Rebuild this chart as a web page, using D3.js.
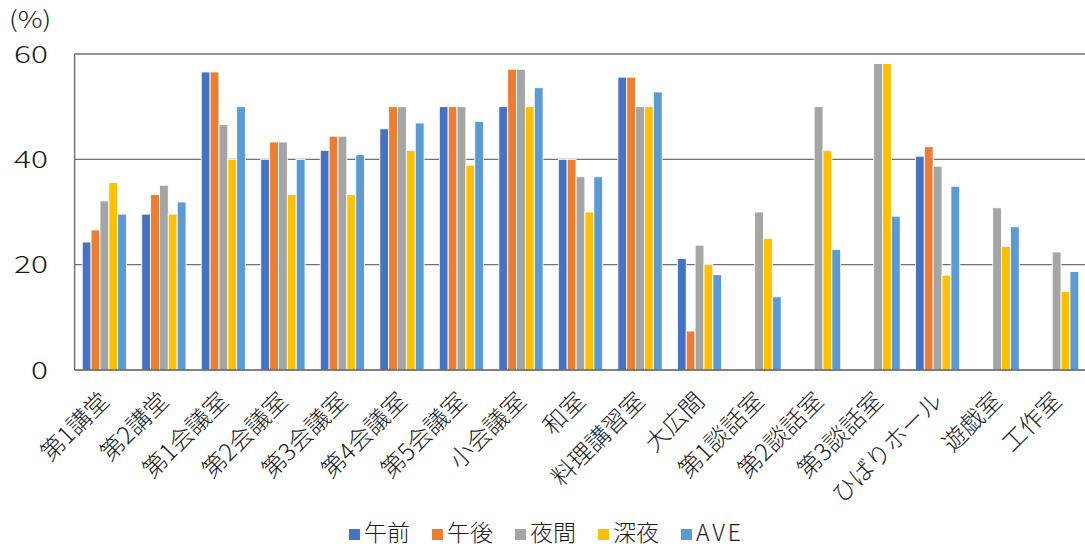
<!DOCTYPE html>
<html>
<head>
<meta charset="utf-8">
<script src="https://cdn.jsdelivr.net/npm/d3@7"></script>
<style>
  html, body { margin: 0; padding: 0; background: #fff; }
  svg { display: block; }
  text { font-family: "Noto Sans CJK JP", "Noto Sans", sans-serif; font-weight: 300; fill: #1a1a1a; }
</style>
</head>
<body>
<svg id="chart" width="1085" height="548"></svg>
<script>
// Room usage rate (%) by time slot
const categories = ["第1講堂","第2講堂","第1会議室","第2会議室","第3会議室","第4会議室","第5会議室","小会議室","和室","料理講習室","大広間","第1談話室","第2談話室","第3談話室","ひばりホール","遊戯室","工作室"];
const seriesNames = ["午前","午後","夜間","深夜","AVE"];
const morning   = [24.3, 29.6, 56.6, 40.0, 41.7, 45.8, 50.0, 50.0, 40.0, 55.6, 21.2, null, null, null, 40.6, null, null];
const afternoon = [26.6, 33.3, 56.6, 43.3, 44.4, 50.0, 50.0, 57.1, 40.0, 55.6,  7.4, null, null, null, 42.4, null, null];
const evening   = [32.1, 35.1, 46.6, 43.3, 44.4, 50.0, 50.0, 57.1, 36.7, 50.0, 23.7, 30.0, 50.0, 58.2, 38.7, 30.8, 22.4];
const lateNight = [35.6, 29.6, 40.0, 33.3, 33.3, 41.7, 38.9, 50.0, 30.0, 50.0, 20.0, 25.0, 41.7, 58.2, 18.0, 23.5, 14.9];
const average   = [29.6, 31.9, 50.0, 40.0, 40.9, 46.9, 47.2, 53.6, 36.7, 52.8, 18.1, 13.9, 22.9, 29.2, 34.9, 27.2, 18.7];
const yTicks = [0, 20, 40, 60];
const colors = ["#4472C4", "#ED7D31", "#A5A5A5", "#FFC000", "#5B9BD5"];

const seriesValues = [morning, afternoon, evening, lateNight, average];

const svg = d3.select("#chart");
const plot = { left: 74.6, right: 1086.4, top: 54, bottom: 370 };

const x0 = d3.scaleBand().domain(categories).range([plot.left, plot.right]).padding(0);
const x1 = d3.scaleBand().domain(seriesNames)
  .range([7.6, x0.bandwidth() - 7.6]).padding(0);
const y = d3.scaleLinear().domain([0, 60]).range([plot.bottom, plot.top]);

// gridlines
svg.append("g").selectAll("line").data(yTicks.filter(d => d > 0)).join("line")
  .attr("x1", plot.left).attr("x2", plot.right)
  .attr("y1", d => y(d)).attr("y2", d => y(d))
  .attr("stroke", "#707070").attr("stroke-width", 1.4);

// bars
const groups = svg.append("g").selectAll("g").data(categories).join("g")
  .attr("transform", d => `translate(${x0(d)},0)`);

groups.selectAll("rect")
  .data((c, i) => seriesNames.map((s, k) => ({ s, k, v: seriesValues[k][i] })).filter(d => d.v != null))
  .join("rect")
  .attr("x", d => x1(d.s))
  .attr("width", x1.bandwidth())
  .attr("y", d => y(d.v))
  .attr("height", d => y(0) - y(d.v))
  .attr("fill", d => colors[d.k])
  .attr("stroke", "#fff")
  .attr("stroke-width", 0.9);

// axis lines
svg.append("line")
  .attr("x1", plot.left).attr("x2", plot.right)
  .attr("y1", y(0)).attr("y2", y(0))
  .attr("stroke", "#595959").attr("stroke-width", 1.6);
svg.append("line")
  .attr("x1", plot.left).attr("x2", plot.left)
  .attr("y1", y(60)).attr("y2", y(0))
  .attr("stroke", "#707070").attr("stroke-width", 1.4);

// y tick labels (wide digits)
svg.append("g").selectAll("text").data(yTicks).join("text")
  .attr("transform", d => `translate(48,${y(d)}) scale(1.32,1)`)
  .attr("dy", "0.36em")
  .attr("text-anchor", "end")
  .attr("font-size", 24)
  .text(d => d);

svg.append("text")
  .attr("transform", "translate(9,28) scale(1.2,1)")
  .attr("font-size", 23)
  .text("(%)");

// category labels, rotated
svg.append("g").selectAll("text").data(categories).join("text")
  .attr("transform", d => `translate(${x0(d) + x0.bandwidth() / 2 - 1},395) rotate(-45)`)
  .attr("text-anchor", "end")
  .attr("dominant-baseline", "central")
  .attr("font-size", 24)
  .text(d => d);

// legend: measure each entry, then lay the row out centred
const legendFont = 23, swatch = 11, swatchGap = 4, itemGap = 22, baseline = 541;
const measure = svg.append("text").attr("font-size", legendFont);
const widths = seriesNames.map(name => {
  measure.attr("letter-spacing", name === "AVE" ? 3 : 0).text(name);
  return measure.node().getComputedTextLength();
});
measure.remove();
const totalW = d3.sum(widths, w => swatch + swatchGap + w) + itemGap * (seriesNames.length - 1);
let lx = 546.5 - totalW / 2;
seriesNames.forEach((name, k) => {
  svg.append("rect")
    .attr("x", lx).attr("y", 529).attr("width", swatch).attr("height", swatch)
    .attr("fill", colors[k]);
  svg.append("text")
    .attr("x", lx + swatch + swatchGap).attr("y", baseline)
    .attr("font-size", legendFont)
    .attr("letter-spacing", name === "AVE" ? 3 : 0)
    .text(name);
  lx += swatch + swatchGap + widths[k] + itemGap;
});
</script>
</body>
</html>
